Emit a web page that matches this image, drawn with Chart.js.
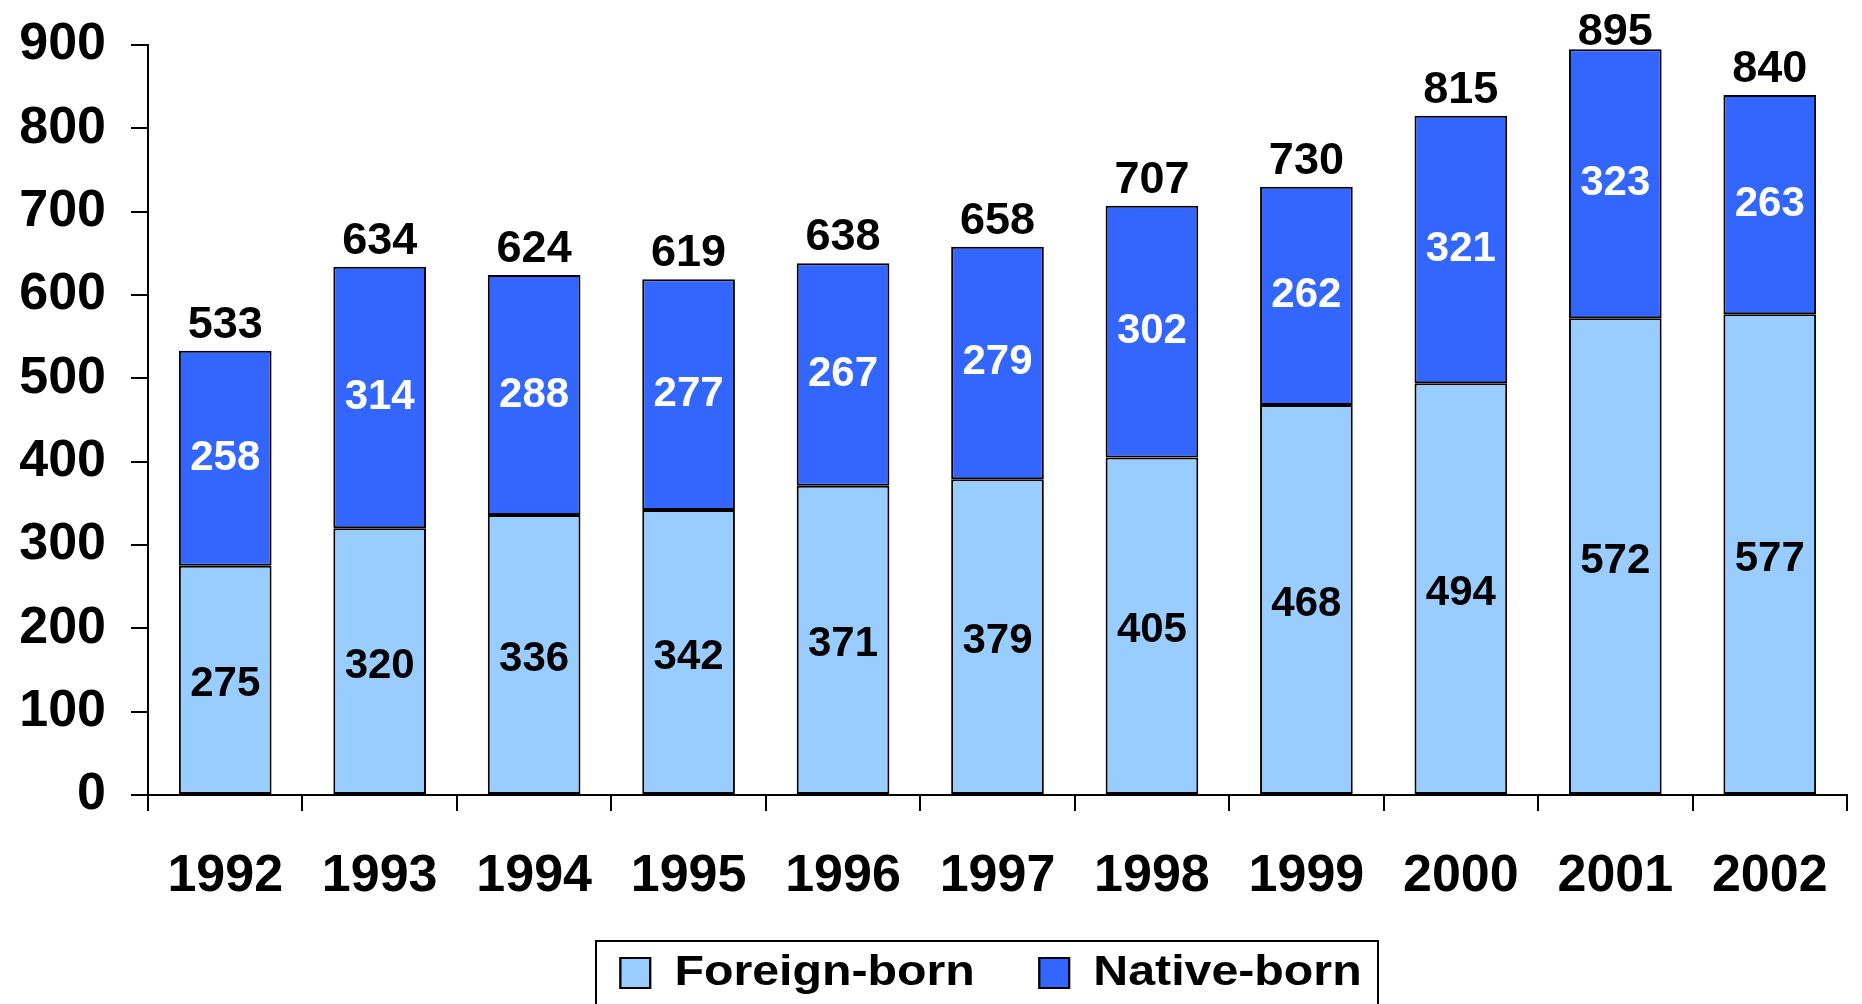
<!DOCTYPE html>
<html>
<head>
<meta charset="utf-8">
<title>Foreign-born and Native-born, 1992-2002</title>
<script src="https://cdn.jsdelivr.net/npm/chart.js@4/dist/chart.umd.min.js"></script>
<style>
  html, body { margin: 0; padding: 0; background: #fff; }
  canvas { display: block; }
</style>
</head>
<body>
<canvas id="chart" width="1862" height="1004"></canvas>
<script>
// values
const years = ['1992', '1993', '1994', '1995', '1996', '1997', '1998', '1999', '2000', '2001', '2002'];
const foreignBorn = [275, 320, 336, 342, 371, 379, 405, 468, 494, 572, 577];
const nativeBorn = [258, 314, 288, 277, 267, 279, 302, 262, 321, 323, 263];
const totals = [533, 634, 624, 619, 638, 658, 707, 730, 815, 895, 840];

const FONT = '"Liberation Sans", Arial, Helvetica, sans-serif';
const LEGEND_CX = 991;      // legend sits right of the canvas centre
const LEGEND_STRETCH = 1.15; // legend text in the original is a bit wide

const ctx = document.getElementById('chart').getContext('2d');

// numbers inside the segments and totals on top of each bar
const barLabels = {
    id: 'barLabels',
    afterDatasetsDraw(chart) {
        const c = chart.ctx;
        const yScale = chart.scales.y;
        c.save();
        c.textAlign = 'center';
        c.font = `bold 42px ${FONT}`;
        c.textBaseline = 'middle';
        chart.data.datasets.forEach((ds, di) => {
            chart.getDatasetMeta(di).data.forEach((bar, i) => {
                c.fillStyle = ds.labelColor;
                c.fillText(ds.data[i], bar.x, (bar.y + bar.base) / 2 + ds.labelShift);
            });
        });
        c.font = `bold 45px ${FONT}`;
        c.textBaseline = 'alphabetic';
        c.fillStyle = '#000';
        const meta = chart.getDatasetMeta(0);
        totals.forEach((t, i) => {
            const top = yScale.getPixelForValue(t);
            c.fillText(t, meta.data[i].x, Math.max(top - 13, chart.chartArea.top));
        });
        c.restore();
    }
};

// legend: shift it, stretch it sideways, frame it
const legendFrame = {
    id: 'legendFrame',
    afterLayout(chart) {
        const lg = chart.legend;
        lg.left = LEGEND_CX - 600;
        lg.right = LEGEND_CX + 600;
        lg.width = 1200;
        if (!lg._stretched) {
            const draw = lg.draw.bind(lg);
            lg.draw = function () {
                const c = chart.ctx;
                c.save();
                c.translate(LEGEND_CX, 0);
                c.scale(LEGEND_STRETCH, 1);
                c.translate(-LEGEND_CX, 0);
                draw();
                c.restore();
            };
            lg._stretched = true;
        }
    },
    afterDraw(chart) {
        const c = chart.ctx;
        c.save();
        c.strokeStyle = '#000';
        c.lineWidth = 2;
        c.strokeRect(596, 941, 782, 80);
        c.restore();
    }
};

new Chart(ctx, {
    type: 'bar',
    data: {
        labels: years,
        datasets: [
            {
                label: 'Foreign-born',
                data: foreignBorn,
                backgroundColor: '#99CCFF',
                borderColor: '#000',
                borderWidth: 2,
                borderSkipped: false,
                labelColor: '#000',
                labelShift: 5
            },
            {
                label: 'Native-born',
                data: nativeBorn,
                backgroundColor: '#3366FF',
                borderColor: '#000',
                borderWidth: 2,
                borderSkipped: false,
                labelColor: '#fff',
                labelShift: 0
            }
        ]
    },
    options: {
        responsive: false,
        animation: false,
        devicePixelRatio: 1,
        layout: { padding: { top: 45, right: 9, left: 0, bottom: 0 } },
        datasets: { bar: { categoryPercentage: 1, barPercentage: 0.6 } },
        plugins: {
            tooltip: { enabled: false },
            legend: {
                position: 'bottom',
                labels: {
                    color: '#000',
                    font: { family: FONT, size: 42, weight: 'bold' },
                    boxWidth: 26,
                    boxHeight: 30,
                    padding: 56
                }
            }
        },
        scales: {
            x: {
                stacked: true,
                offset: true,
                grid: {
                    offset: true,
                    drawOnChartArea: false,
                    drawTicks: true,
                    tickLength: 16,
                    color: '#000',
                    lineWidth: 2
                },
                border: { display: true, color: '#000', width: 2 },
                ticks: {
                    color: '#000',
                    padding: 34,
                    font: { family: FONT, size: 52, weight: 'bold' },
                    maxRotation: 0
                },
                afterFit(scale) { scale.height = 101; }
            },
            y: {
                stacked: true,
                min: 0,
                max: 900,
                grid: {
                    drawOnChartArea: false,
                    drawTicks: true,
                    tickLength: 17,
                    color: '#000',
                    lineWidth: 2
                },
                border: { display: true, color: '#000', width: 2 },
                ticks: {
                    stepSize: 100,
                    color: '#000',
                    padding: 25,
                    font: { family: FONT, size: 52, weight: 'bold' }
                },
                afterFit(scale) {
                    scale.width = 148;
                    scale.paddingTop = 0;
                    scale.paddingBottom = 0;
                }
            }
        }
    },
    plugins: [barLabels, legendFrame]
});
</script>
</body>
</html>
